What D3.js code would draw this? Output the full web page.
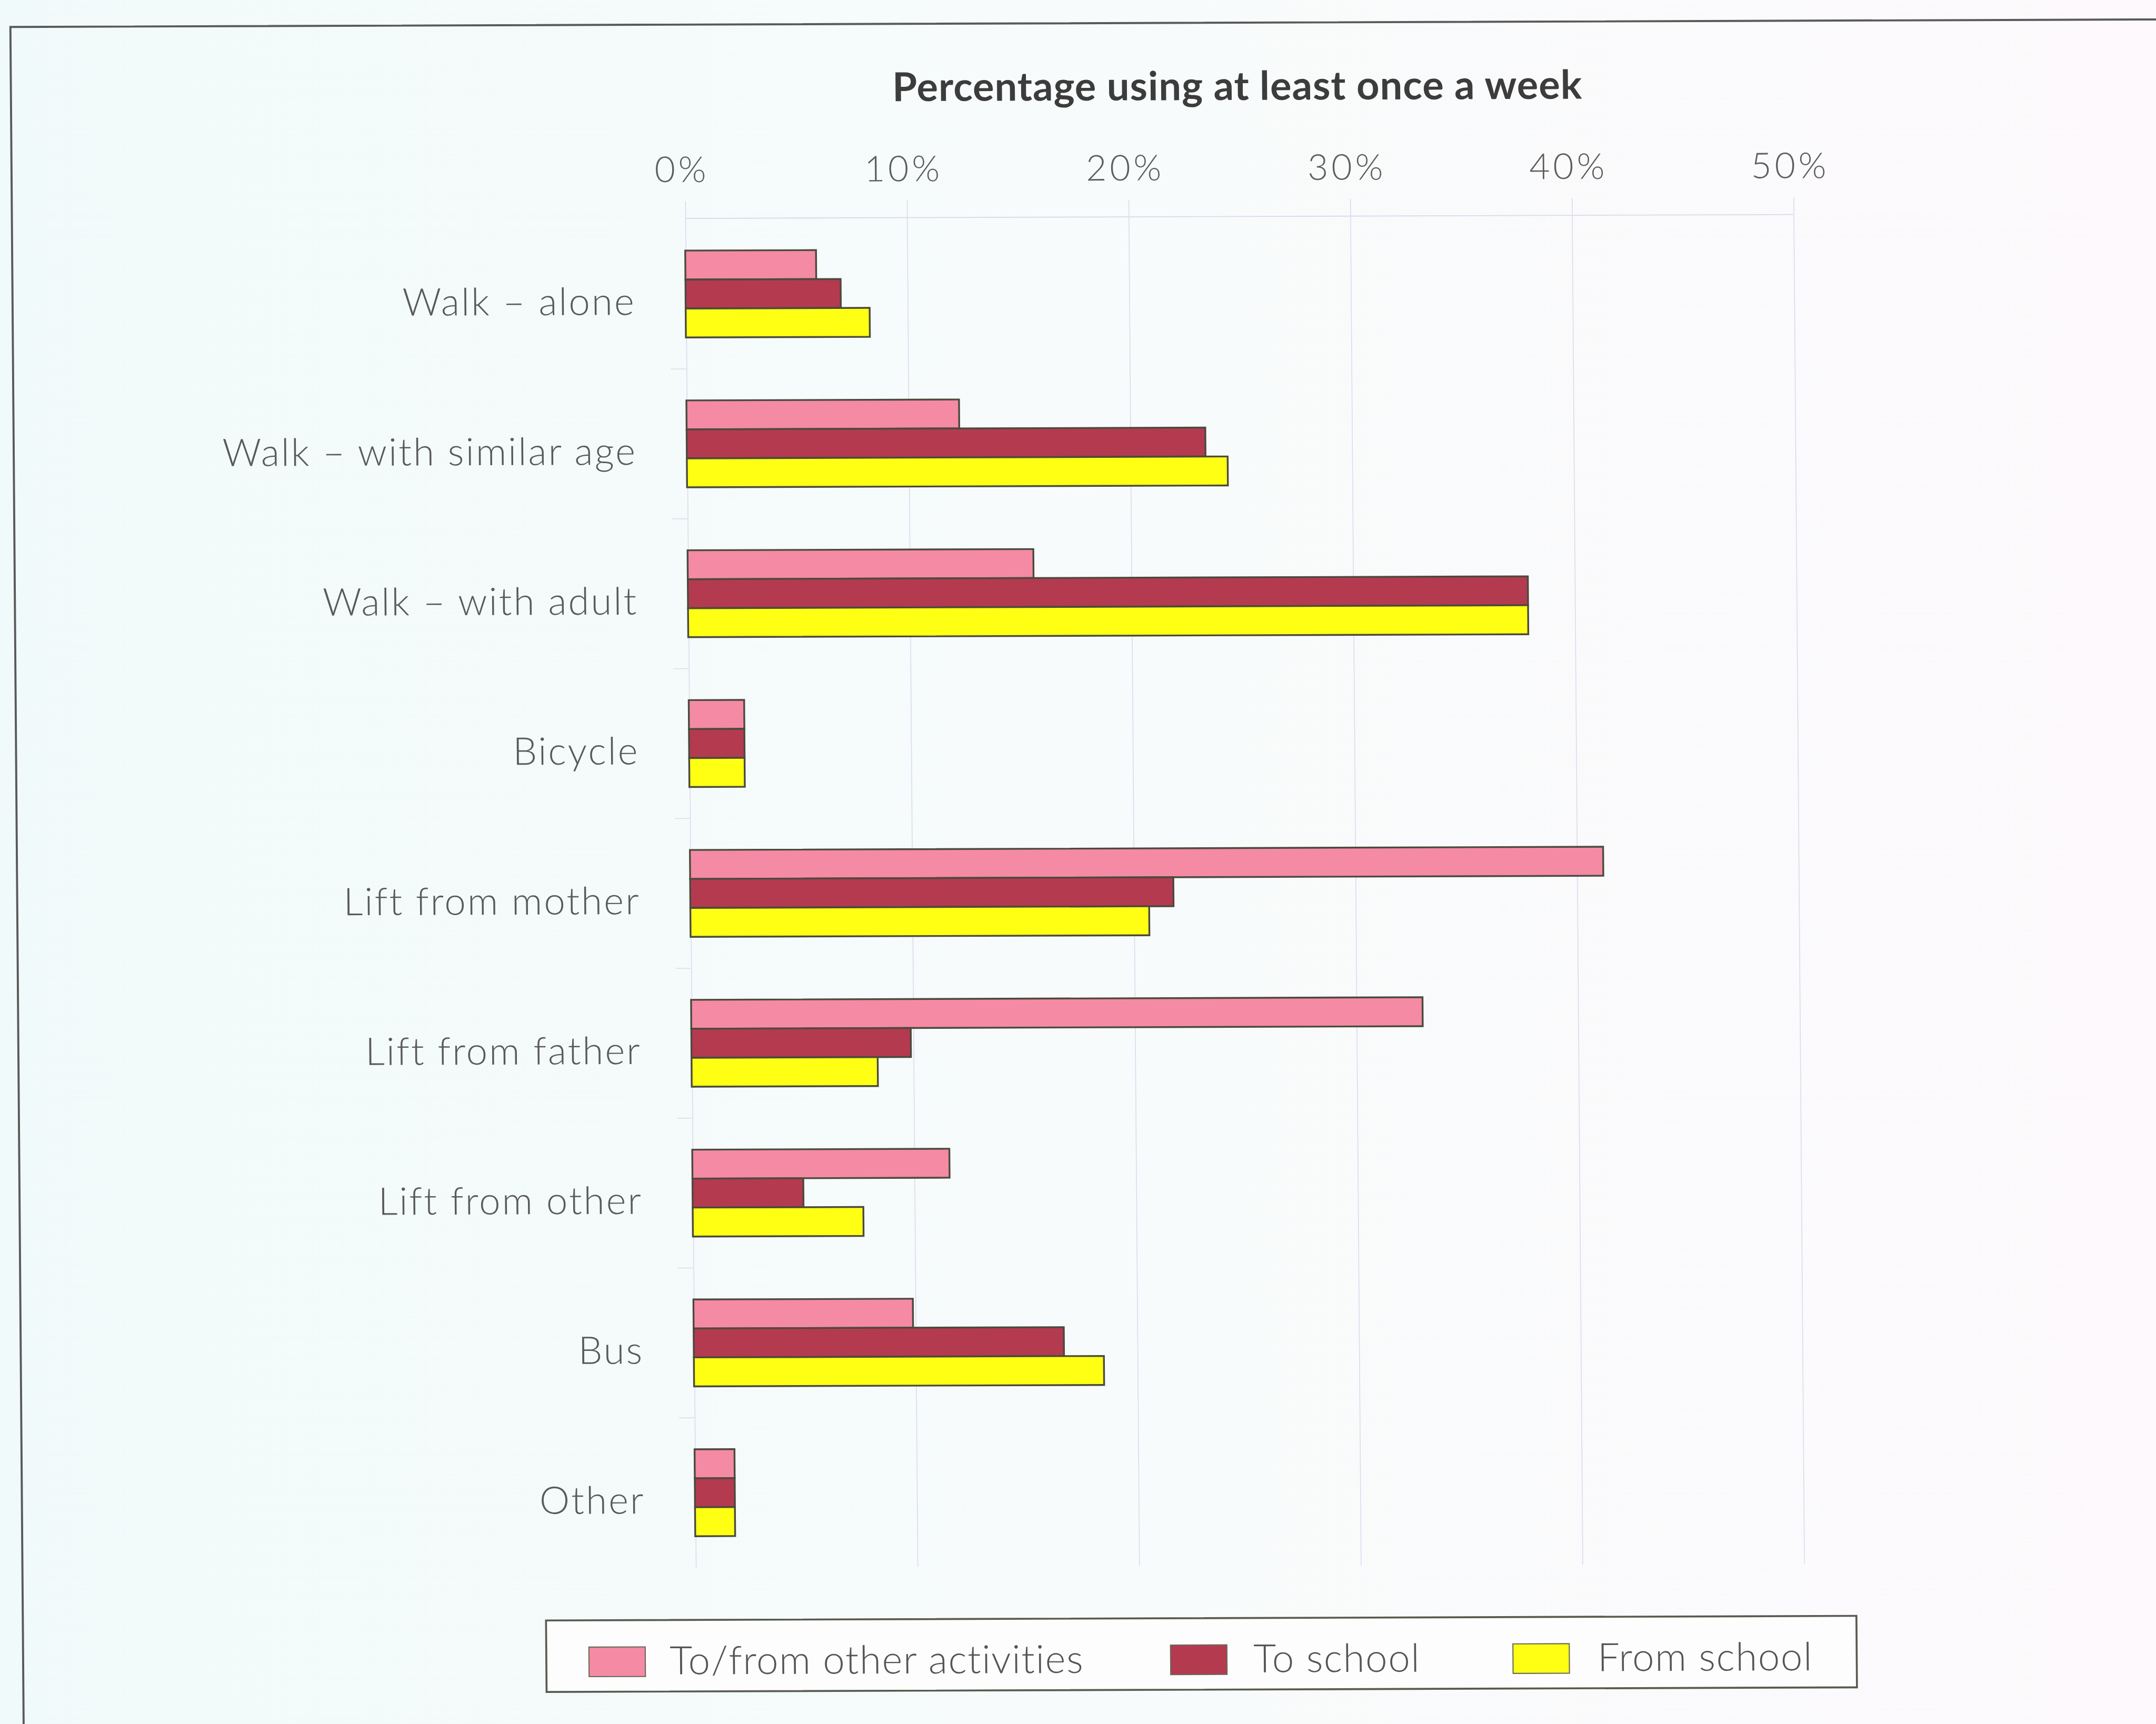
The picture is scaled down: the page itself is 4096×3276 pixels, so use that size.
<!DOCTYPE html>
<html>
<head>
<meta charset="utf-8">
<script src="https://cdn.jsdelivr.net/npm/d3@7"></script>
<style>
  html, body { margin: 0; padding: 0; background: #f5fbfb; }
  svg { display: block; }
</style>
</head>
<body>
<svg id="chart" width="4096" height="3276"></svg>
<script>
// ---------------- data ----------------
const categories = ["Walk – alone", "Walk – with similar age", "Walk – with adult", "Bicycle",
  "Lift from mother", "Lift from father", "Lift from other", "Bus", "Other"];
const seriesNames = ["To/from other activities", "To school", "From school"];
const toFromOtherActivities = [5.9, 12.3, 15.6, 2.5, 41.2, 33.0, 11.6, 9.9, 1.8];
const toSchool = [7.0, 23.4, 37.9, 2.5, 21.8, 9.9, 5.0, 16.7, 1.8];
const fromSchool = [8.3, 24.4, 37.9, 2.5, 20.7, 8.4, 7.7, 18.5, 1.8];
const tickValues = [0, 10, 20, 30, 40, 50];
const tickLabels = ["0%", "10%", "20%", "30%", "40%", "50%"];
const axisTitle = "Percentage using at least once a week";

// ---------------- styling / layout ----------------
const seriesValues = [toFromOtherActivities, toSchool, fromSchool];
const colors = ["#f48aa3", "#b43a50", "#ffff14"];
const S = 4096 / 1568;          // reference display units -> output pixels
const a = 0.0078, b = -0.0035;  // slight skew of the scanned original
const cx = 900, cy = 650;
const labelFont = "Lato, 'Open Sans', 'DejaVu Sans', sans-serif";

const svg = d3.select("#chart");
const defs = svg.append("defs");
const grad = defs.append("linearGradient").attr("id", "bg").attr("x1", "0").attr("x2", "1").attr("y1", "0").attr("y2", "0");
grad.append("stop").attr("offset", "0%").attr("stop-color", "#f1fafa");
grad.append("stop").attr("offset", "55%").attr("stop-color", "#f8fbfb");
grad.append("stop").attr("offset", "100%").attr("stop-color", "#fdf9fc");
svg.append("rect").attr("width", 4096).attr("height", 3276).attr("fill", "url(#bg)");

const root = svg.append("g")
  .attr("transform", `scale(${S}) matrix(1,${b},${a},1,${-a * cy},${-b * cx})`);

// outer frame (extends past the right/bottom edges)
root.append("rect")
  .attr("x", 12.5).attr("y", 16.5).attr("width", 1700).attr("height", 1400)
  .attr("fill", "none").attr("stroke", "#5a5a5a").attr("stroke-width", 1.5);

// scales
const plotTop = 158, plotBottom = 1139;
const x = d3.scaleLinear().domain([0, 50]).range([502, 1308]);
const y = d3.scaleBand().domain(categories).range([plotTop, plotBottom])
  .paddingInner(0.42).paddingOuter(0.21);
const ySub = d3.scaleBand().domain(seriesNames).range([0, y.bandwidth()]).padding(0);

// gridlines
const grid = root.append("g").attr("transform", `translate(0,${plotTop - 1})`)
  .call(d3.axisTop(x).tickValues(tickValues).tickFormat("").tickSize(-(plotBottom - plotTop + 1)).tickSizeOuter(0));
grid.select(".domain").remove();
grid.selectAll(".tick line").attr("stroke", "#ddd9ee").attr("stroke-width", 0.6);

// top axis: horizontal line, small upward ticks, labels
const xAxis = root.append("g").attr("transform", `translate(0,${plotTop - 1})`)
  .call(d3.axisTop(x).tickValues(tickValues).tickFormat((d, i) => tickLabels[i])
    .tickSize(12).tickSizeOuter(0).tickPadding(14));
xAxis.select(".domain").attr("stroke", "#dcd8ec").attr("stroke-width", 0.7);
xAxis.selectAll(".tick line").attr("stroke", "#ddd9ee").attr("stroke-width", 0.6);
xAxis.selectAll(".tick text")
  .attr("x", -2.5)
  .attr("dy", "0")
  .attr("font-family", labelFont).attr("font-weight", 300)
  .attr("font-size", 26).attr("letter-spacing", 2.2).attr("fill", "#5e5e5e");

// category labels
const yAxis = root.append("g").attr("transform", `translate(${x(0)},0)`)
  .call(d3.axisLeft(y).tickSize(0).tickPadding(36.3));
yAxis.select(".domain").remove();
yAxis.selectAll(".tick text")
  .attr("dy", "0").attr("y", 15)
  .attr("font-family", labelFont).attr("font-weight", 300)
  .attr("font-size", 27.8).attr("letter-spacing", 1.15).attr("fill", "#5a5a5a");
// faint band-boundary ticks on the category axis
root.append("g").selectAll("line")
  .data(categories.slice(1))
  .join("line")
  .attr("x1", x(0) - 11).attr("x2", x(0))
  .attr("y1", d => y(d) - y.step() * y.paddingInner() / 2)
  .attr("y2", d => y(d) - y.step() * y.paddingInner() / 2)
  .attr("stroke", "#dcdcea").attr("stroke-width", 0.6);

// bars
const rows = categories.map((c, i) => ({ c, vals: seriesNames.map((s, j) => ({ s, j, v: seriesValues[j][i] })) }));
root.append("g").selectAll("g")
  .data(rows)
  .join("g")
  .attr("transform", d => `translate(0,${y(d.c)})`)
  .selectAll("rect")
  .data(d => d.vals)
  .join("rect")
  .attr("x", x(0))
  .attr("y", d => ySub(d.s))
  .attr("width", d => x(d.v) - x(0))
  .attr("height", ySub.bandwidth())
  .attr("fill", d => colors[d.j])
  .attr("stroke", "#4a4a3e")
  .attr("stroke-width", 1.3);

// title
root.append("text")
  .attr("x", 904.5).attr("y", 72.7)
  .attr("text-anchor", "middle")
  .attr("font-family", labelFont).attr("font-weight", 700)
  .attr("font-size", 29).attr("letter-spacing", 0.4).attr("fill", "#3c3c3c")
  .text(axisTitle);

// legend
const legend = root.append("g");
legend.append("rect")
  .attr("x", 393).attr("y", 1177).attr("width", 953).attr("height", 52)
  .attr("fill", "#fdfdfd").attr("stroke", "#5a5a50").attr("stroke-width", 1.4);
const legendSwatchX = [424, 847, 1096];
const legendTextX = [482.7, 907.3, 1157.5];
const items = legend.selectAll("g.item").data(seriesNames).join("g").attr("class", "item");
items.append("rect")
  .attr("x", (d, i) => legendSwatchX[i]).attr("y", 1196.5)
  .attr("width", 41).attr("height", 21.5)
  .attr("fill", (d, i) => colors[i]).attr("stroke", "#6a6a58").attr("stroke-width", 0.8);
items.append("text")
  .attr("x", (d, i) => legendTextX[i]).attr("y", 1216.5)
  .attr("font-family", labelFont).attr("font-weight", 300)
  .attr("font-size", 28.5).attr("letter-spacing", 0.6).attr("fill", "#555")
  .text(d => d);
</script>
</body>
</html>
